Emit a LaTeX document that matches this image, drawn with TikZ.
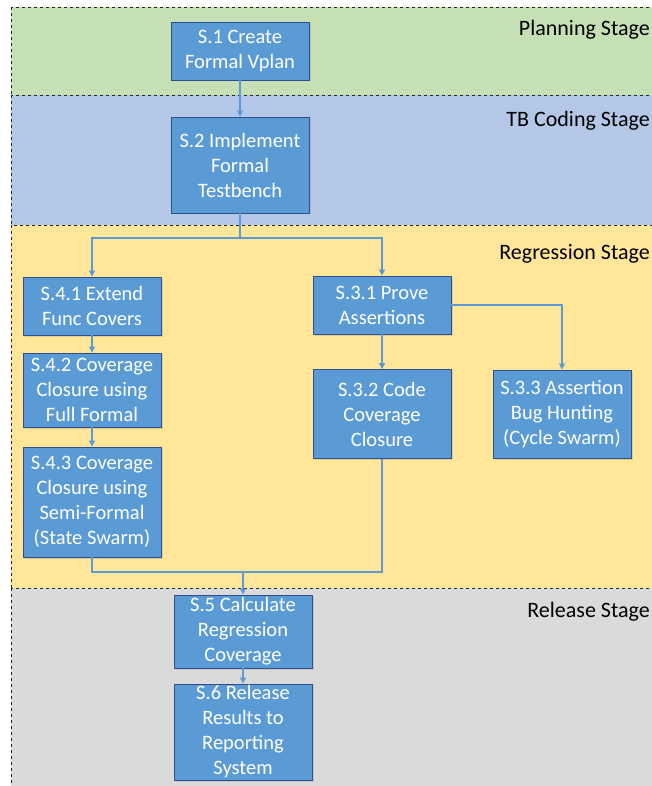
\documentclass[tikz,border=0pt]{standalone}
\usepackage{fontspec}
\setmainfont{Carlito}
\usetikzlibrary{arrows.meta,shadows}

\definecolor{planfill}{HTML}{C5E0B4}
\definecolor{codefill}{HTML}{B4C7E7}
\definecolor{regrfill}{HTML}{FFE699}
\definecolor{relfill}{HTML}{DADADA}
\definecolor{boxfill}{HTML}{5B9BD5}
\definecolor{boxline}{HTML}{2F4F8F}
\definecolor{flowline}{HTML}{5B9BD5}

\begin{document}
\begin{tikzpicture}[x=1pt,y=-1pt,
	band/.style={draw=black!85,dashed,line width=0.7pt},
	stagelabel/.style={anchor=base east,inner sep=0pt,font=\fontsize{22}{26}\selectfont},
	stepbox/.style={draw=boxline,fill=boxfill,line width=0.9pt,text=white,align=center,
		minimum width=138pt,inner sep=0pt,font=\fontsize{20.5}{25}\selectfont,
		drop shadow={opacity=0.25,shadow xshift=1.5pt,shadow yshift=-1.5pt}},
	flow/.style={draw=flowline,line width=1.1pt},
	>={Triangle[length=6pt,width=6pt]}]
	\useasboundingbox (0,0) rectangle (652,786);
	\clip (0,0) rectangle (652,786);
	% stage bands
	\draw [band,fill=planfill] (11,7) rectangle (680,95);
	\draw [band,fill=codefill] (11,95) rectangle (680,225);
	\draw [band,fill=regrfill] (11,225) rectangle (680,588);
	\draw [band,fill=relfill] (11,588) rectangle (680,820);
	\node [stagelabel] (planlbl) at (650,36) {Planning Stage};
	\node [stagelabel] (codelbl) at (650,127) {TB Coding Stage};
	\node [stagelabel] (regrlbl) at (650,259) {Regression Stage};
	\node [stagelabel] (rellbl) at (650,617) {Release Stage};
	% steps
	\node [stepbox,minimum height=58pt] (s1) at (240,51) {S.1 Create\\Formal Vplan};
	\node [stepbox,minimum height=96pt] (s2) at (240,165) {S.2 Implement\\Formal\\Testbench};
	\node [stepbox,minimum height=58pt] (s41) at (92,306) {S.4.1 Extend\\Func Covers};
	\node [stepbox,minimum height=74pt] (s42) at (92,390) {S.4.2 Coverage\\Closure using\\Full Formal};
	\node [stepbox,minimum height=110pt] (s43) at (92,502) {S.4.3 Coverage\\Closure using\\Semi-Formal\\(State Swarm)};
	\node [stepbox,minimum height=58pt] (s31) at (382,305) {S.3.1 Prove\\Assertions};
	\node [stepbox,minimum height=89pt] (s32) at (382,414) {S.3.2 Code\\Coverage\\Closure};
	\node [stepbox,minimum height=88pt] (s33) at (562,414) {S.3.3 Assertion\\Bug Hunting\\(Cycle Swarm)};
	\node [stepbox,minimum height=73pt] (s5) at (243,631.5) {S.5 Calculate\\Regression\\Coverage};
	\node [stepbox,minimum height=96pt] (s6) at (243,732) {S.6 Release\\Results to\\Reporting\\System};
	% connectors
	\coordinate (split) at (240,238);
	\coordinate (merge) at (243,572);
	\draw [flow] [->] (s1) -- (s2);
	\draw [flow] (s2) -- (split);
	\draw [flow] [->] (split) -| (s41);
	\draw [flow] [->] (split) -| (s31);
	\draw [flow] [->] (s41) -- (s42);
	\draw [flow] [->] (s42) -- (s43);
	\draw [flow] [->] (s31) -- (s32);
	\draw [flow] [->] (s31) -| (s33);
	\draw [flow] (s43) |- (merge);
	\draw [flow] (s32) |- (merge);
	\draw [flow] [->] (merge) -- (s5);
	\draw [flow] [->] (s5) -- (s6);
\end{tikzpicture}
\end{document}
